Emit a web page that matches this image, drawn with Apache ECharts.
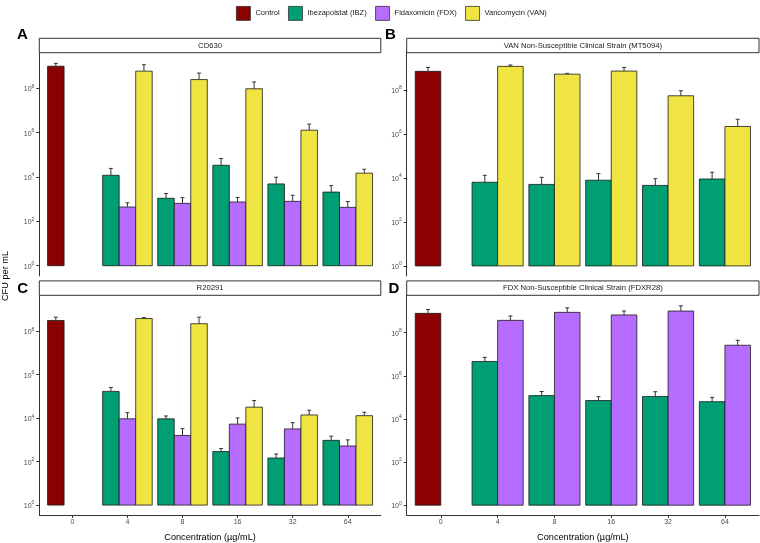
<!DOCTYPE html>
<html><head><meta charset="utf-8">
<script src="https://cdn.jsdelivr.net/npm/echarts@6/dist/echarts.min.js"></script>
<style>html,body{margin:0;padding:0;background:#fff}#c{width:760px;height:543px}</style>
</head><body><div id="c"></div>
<script>
// ---------------- data ----------------
const concentrations = ['0', '4', '8', '16', '32', '64'];
const drugNames = ['Control', 'Ibezapolstat (IBZ)', 'Fidaxomicin (FDX)', 'Vancomycin (VAN)'];
const drugColors = ['#8B0000', '#009E73', '#B66DFF', '#F0E442'];

// Panel A: CD630 (means and upper error-bar ends, CFU/mL), concentrations 4..64
const A_control = [1.0e9], A_controlErr = [1.35e9];
const A_IBZ = [1.2e4, 1.1e3, 3.4e4, 4.9e3, 2.1e3];
const A_IBZerr = [2.45e4, 1.8e3, 6.9e4, 9.8e3, 4.1e3];
const A_FDX = [445, 650, 750, 800, 430];
const A_FDXerr = [690, 1170, 1200, 1510, 780];
const A_VAN = [6.0e8, 2.5e8, 9.6e7, 1.3e6, 1.5e4];
const A_VANerr = [1.17e9, 4.9e8, 1.95e8, 2.45e6, 2.25e4];

// Panel B: VAN non-susceptible MT5094
const B_control = [7.1e8], B_controlErr = [1.07e9];
const B_IBZ = [6.4e3, 5.1e3, 7.9e3, 4.6e3, 9.0e3];
const B_IBZerr = [1.32e4, 1.07e4, 1.58e4, 9.3e3, 1.82e4];
const B_VAN = [1.2e9, 5.3e8, 7.3e8, 5.5e7, 2.2e6];
const B_VANerr = [1.38e9, 5.75e8, 1.07e9, 9.3e7, 4.7e6];

// Panel C: R20291
const C_control = [3.1e8], C_controlErr = [4.4e8];
const C_IBZ = [1.7e5, 9.3e3, 290, 147, 950];
const C_IBZerr = [2.57e5, 1.26e4, 400, 224, 1480];
const C_FDX = [9.3e3, 1.6e3, 5.3e3, 3.2e3, 525];
const C_FDXerr = [1.78e4, 3.3e3, 1.02e4, 6.2e3, 1000];
const C_VAN = [3.8e8, 2.2e8, 3.2e4, 1.4e4, 1.3e4];
const C_VANerr = [4.2e8, 4.4e8, 6.5e4, 2.3e4, 1.86e4];

// Panel D: FDX non-susceptible FDXR28
const D_control = [7.8e8], D_controlErr = [1.17e9];
const D_IBZ = [4.6e6, 1.2e5, 7.1e4, 1.1e5, 6.3e4];
const D_IBZerr = [7.1e6, 1.86e5, 1.07e5, 1.82e5, 1.0e5];
const D_FDX = [3.7e8, 8.7e8, 6.6e8, 1.0e9, 2.6e7];
const D_FDXerr = [5.9e8, 1.41e9, 1.0e9, 1.74e9, 4.4e7];

const yTickValues = [1, 1e2, 1e4, 1e6, 1e8];

// ---------------- layout ----------------
const panels = [
  { letter: 'A', lx: 22.5, ly: 34.7, title: 'CD630', left: 39.3, right: 380.8, top: 52.7, bottom: 275.9, ext: [-0.46, 9.61], bottomAxis: false,
    series: [[0, A_IBZ, A_IBZerr], [1, A_FDX, A_FDXerr], [2, A_VAN, A_VANerr]], drugs: [1, 2, 3], control: [A_control, A_controlErr] },
  { letter: 'B', lx: 390.3, ly: 34.7, title: 'VAN Non-Susceptible Clinical Strain (MT5094)', left: 406.7, right: 759, top: 52.7, bottom: 275.9, ext: [-0.455, 9.70], bottomAxis: false,
    series: [[0, B_IBZ, B_IBZerr], [1, B_VAN, B_VANerr]], drugs: [1, 3], control: [B_control, B_controlErr] },
  { letter: 'C', lx: 22.7, ly: 289, title: 'R20291', left: 39.3, right: 380.8, top: 295.3, bottom: 519.3, ext: [-0.455, 9.65], bottomAxis: true,
    series: [[0, C_IBZ, C_IBZerr], [1, C_FDX, C_FDXerr], [2, C_VAN, C_VANerr]], drugs: [1, 2, 3], control: [C_control, C_controlErr] },
  { letter: 'D', lx: 394, ly: 289, title: 'FDX Non-Susceptible Clinical Strain (FDXR28)', left: 406.7, right: 759, top: 295.3, bottom: 519.3, ext: [-0.455, 9.73], bottomAxis: true,
    series: [[0, D_IBZ, D_IBZerr], [1, D_FDX, D_FDXerr]], drugs: [1, 2], control: [D_control, D_controlErr] }
];

const DODGE = 0.9, CAP = 0.07;
const labelColor = '#4d4d4d', axisColor = '#333';
const FONT = 'Liberation Sans, Arial, sans-serif';

function makeRender(slotW) {
  return function (params, api) {
    const x = api.value(0), v = api.value(1), e = api.value(2);
    const p0 = api.coord([x - slotW / 2, 1]);
    const p1 = api.coord([x + slotW / 2, v]);
    const pv = api.coord([x, v]);
    const pe = api.coord([x, e]);
    const cl = api.coord([x - CAP / 2, e]);
    const cr = api.coord([x + CAP / 2, e]);
    return {
      type: 'group', children: [
        { type: 'rect', shape: { x: p0[0], y: p1[1], width: p1[0] - p0[0], height: p0[1] - p1[1] },
          style: { fill: api.visual('color'), stroke: '#1a1a1a', lineWidth: 0.8 } },
        { type: 'line', shape: { x1: pv[0], y1: pv[1], x2: pe[0], y2: pe[1] }, style: { stroke: axisColor, lineWidth: 1 } },
        { type: 'line', shape: { x1: cl[0], y1: cl[1], x2: cr[0], y2: cr[1] }, style: { stroke: axisColor, lineWidth: 1 } }
      ]
    };
  };
}

const grids = [], xAxes = [], yAxes = [], seriesList = [], graphics = [];
panels.forEach((p, i) => {
  grids.push({ left: p.left, top: p.top, width: p.right - p.left, height: p.bottom - p.top });
  const catIdx = concentrations.map((c, k) => k);
  xAxes.push({
    gridIndex: i, type: 'value', min: -0.6, max: concentrations.length - 0.4,
    show: true, splitLine: { show: false },
    axisLine: { show: p.bottomAxis, onZero: false, lineStyle: { color: axisColor, width: 1 } },
    axisTick: { show: p.bottomAxis, customValues: catIdx, length: 3, lineStyle: { color: axisColor } },
    axisLabel: { show: p.bottomAxis, customValues: catIdx, margin: 4, fontSize: 7, color: labelColor,
      fontFamily: FONT, formatter: v => concentrations[Math.round(v)] },
    name: p.bottomAxis ? 'Concentration (\u00b5g/mL)' : '', nameLocation: 'middle', nameGap: 18,
    nameTextStyle: { fontSize: 9.2, color: '#000', fontFamily: FONT }
  });
  yAxes.push({
    gridIndex: i, type: 'log', logBase: 10, min: Math.pow(10, p.ext[0]), max: Math.pow(10, p.ext[1]),
    splitLine: { show: false },
    axisLine: { show: true, onZero: false, lineStyle: { color: axisColor, width: 1 } },
    axisTick: { show: true, customValues: yTickValues, length: 3, lineStyle: { color: axisColor } },
    axisLabel: {
      customValues: yTickValues, margin: 5, color: labelColor, fontFamily: FONT,
      formatter: v => '{b|10}{s|' + Math.round(Math.log10(v)) + '}',
      rich: {
        b: { fontSize: 7, color: labelColor, lineHeight: 9, verticalAlign: 'bottom', fontFamily: FONT },
        s: { fontSize: 5, color: labelColor, lineHeight: 6, verticalAlign: 'top', fontFamily: FONT }
      }
    }
  });
  const nSlots = p.drugs.length;
  const slotW = DODGE / nSlots;
  const slotX = (cat, slot) => cat - DODGE / 2 + (slot + 0.5) * slotW;
  // control bar: first dodge slot at concentration 0
  seriesList.push({
    name: drugNames[0], type: 'custom', xAxisIndex: i, yAxisIndex: i,
    itemStyle: { color: drugColors[0] }, renderItem: makeRender(slotW), encode: { x: 0, y: [1, 2] },
    data: p.control[0].map((v, k) => [slotX(0, 0), v, p.control[1][k]])
  });
  p.series.forEach((s, si) => {
    const d = p.drugs[si];
    seriesList.push({
      name: drugNames[d], type: 'custom', xAxisIndex: i, yAxisIndex: i,
      itemStyle: { color: drugColors[d] }, renderItem: makeRender(slotW), encode: { x: 0, y: [1, 2] },
      data: s[1].map((v, k) => [slotX(k + 1, s[0]), v, s[2][k]])
    });
  });
  // strip
  graphics.push({ type: 'rect', shape: { x: p.left, y: p.top - 14.4, width: p.right - p.left, height: 14.4 },
    style: { fill: '#fff', stroke: '#1a1a1a', lineWidth: 0.9 } });
  graphics.push({ type: 'text', x: (p.left + p.right) / 2, y: p.top - 7.2,
    style: { text: p.title, fontSize: 7.7, fill: '#1a1a1a', align: 'center', verticalAlign: 'middle', fontFamily: FONT } });
  graphics.push({ type: 'text', x: p.lx, y: p.ly,
    style: { text: p.letter, fontSize: 15, fontWeight: 'bold', fill: '#000', align: 'center', verticalAlign: 'middle', fontFamily: FONT } });
});
graphics.push({ type: 'text', x: 5.5, y: 276, rotation: Math.PI / 2,
  style: { text: 'CFU per mL', fontSize: 9.2, fill: '#000', align: 'center', verticalAlign: 'middle', fontFamily: FONT } });

const chart = echarts.init(document.getElementById('c'), null, { renderer: 'canvas' });
chart.setOption({
  animation: false,
  backgroundColor: '#fff',
  legend: {
    left: 231, top: 1, itemWidth: 14, itemHeight: 14, itemGap: 8.5, icon: 'rect',
    itemStyle: { borderColor: '#333', borderWidth: 0.8 },
    textStyle: { fontSize: 7.5, color: '#1a1a1a', fontFamily: FONT },
    data: drugNames.map((n, k) => ({ name: n, itemStyle: { color: drugColors[k] } }))
  },
  grid: grids, xAxis: xAxes, yAxis: yAxes, series: seriesList, graphic: graphics
});
</script></body></html>
